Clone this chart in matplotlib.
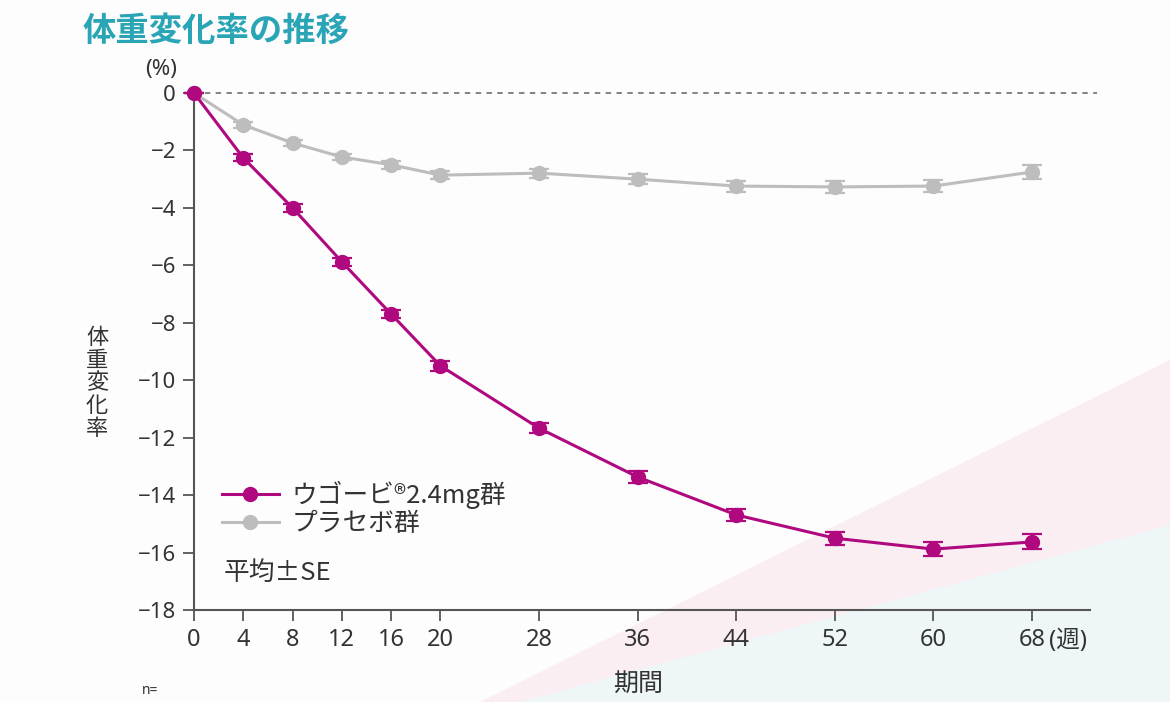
import matplotlib
matplotlib.use("Agg")
import matplotlib.pyplot as plt
from matplotlib.patches import Polygon
from matplotlib.lines import Line2D

plt.rcParams['font.family'] = ['Noto Sans', 'Noto Sans CJK JP', 'DejaVu Sans']
CJK = ['Noto Sans CJK JP', 'DejaVu Sans']

weeks = [0, 4, 8, 12, 16, 20, 28, 36, 44, 52, 60, 68]
wegovy = [0, -2.26, -4.0, -5.88, -7.7, -9.5, -11.67, -13.37, -14.69, -15.5, -15.88, -15.63]
wegovy_se = [0, 0.12, 0.13, 0.14, 0.15, 0.17, 0.18, 0.2, 0.2, 0.22, 0.24, 0.26]
placebo = [0, -1.11, -1.74, -2.23, -2.5, -2.86, -2.79, -3.0, -3.24, -3.27, -3.24, -2.75]
placebo_se = [0, 0.1, 0.11, 0.12, 0.14, 0.15, 0.16, 0.18, 0.19, 0.2, 0.21, 0.23]
yticks = [0, -2, -4, -6, -8, -10, -12, -14, -16, -18]
labels = ['ウゴービ®2.4mg群', 'プラセボ群']

W, H = 1170, 702
fig = plt.figure(figsize=(11.7, 7.02), dpi=100)
fig.patch.set_facecolor('#fdfdfd')

# background decorations
bg = fig.add_axes([0, 0, 1, 1], zorder=-10)
bg.set_xlim(0, W)
bg.set_ylim(H, 0)
bg.axis('off')
bg.add_patch(Polygon([(480, 702), (1170, 360), (1170, 702)], closed=True,
                     facecolor='#fbeef3', edgecolor='none'))
bg.add_patch(Polygon([(520, 702), (1170, 525), (1170, 702)], closed=True,
                     facecolor='#eef6f8', edgecolor='none'))

ax = fig.add_axes([194 / W, 1 - 610 / H, (1090 - 194) / W, (610 - 93) / H], zorder=1)
ax.set_facecolor('none')

ax.axhline(0, color='#7a7a7a', lw=1.3, ls=(0, (3, 3)), xmax=(1097 - 194) / (1090 - 194), clip_on=False, zorder=1)

magenta = '#b0087e'
gray = '#bdbdbd'
ax.errorbar(weeks, placebo, yerr=placebo_se, color=gray, lw=2.2, marker='o', ms=10,
            capsize=7, capthick=1.6, elinewidth=1.6, clip_on=False, zorder=3)
ax.errorbar(weeks, wegovy, yerr=wegovy_se, color=magenta, lw=2.2, marker='o', ms=10,
            capsize=7, capthick=1.6, elinewidth=1.6, clip_on=False, zorder=4)

ax.set_xlim(0, 72.7)
ax.set_ylim(-18, 0)
ax.set_xticks(weeks)
ax.set_xticklabels([str(w) for w in weeks])
ax.set_yticks(yticks)
ax.set_yticklabels([str(v).replace('-', '\u2212') for v in yticks])

for s in ['top', 'right']:
    ax.spines[s].set_visible(False)
for s in ['left', 'bottom']:
    ax.spines[s].set_color('#555555')
    ax.spines[s].set_linewidth(1.5)
ax.tick_params(axis='both', direction='out', length=8, width=1.3, color='#555555',
               labelcolor='#333333', pad=5)
ax.tick_params(axis='x', labelsize=17)
ax.tick_params(axis='y', labelsize=16)

# legend
handles = [Line2D([], [], color=magenta, lw=2.2, marker='o', ms=10),
           Line2D([], [], color=gray, lw=2.2, marker='o', ms=10)]
leg = ax.legend(handles, labels,
                loc='upper left', bbox_to_anchor=(0.02, 0.27), frameon=False,
                prop={'family': CJK, 'size': 18.5}, handlelength=2.2, handletextpad=0.5,
                labelspacing=0.1, borderaxespad=0)
for t in leg.get_texts():
    t.set_color('#333333')

fig.text(224 / W, 1 - 573 / H, '平均±SE', fontsize=18.5, family=CJK, color='#333333',
         va='center', ha='left')

fig.text(83 / W, 1 - 32 / H, '体重変化率の推移', fontsize=24, fontweight='bold',
         color='#2aa5b6', va='center', ha='left')
fig.text(161 / W, 1 - 69 / H, '(%)', fontsize=16, color='#333333', va='center', ha='center')
fig.text(97 / W, 1 - 384 / H, '体\n重\n変\n化\n率', fontsize=16, color='#333333',
         va='center', ha='center', linespacing=1.1)
fig.text(1049 / W, 1 - 641 / H, '(週)', fontsize=17, color='#333333', va='center', ha='left')
fig.text(638 / W, 1 - 684 / H, '期間', fontsize=18, color='#333333', va='center', ha='center')
fig.text(150 / W, 1 - 690 / H, 'n=', fontsize=10, color='#333333', va='center', ha='center')

fig.savefig('out.png', dpi=100, facecolor=fig.get_facecolor())
